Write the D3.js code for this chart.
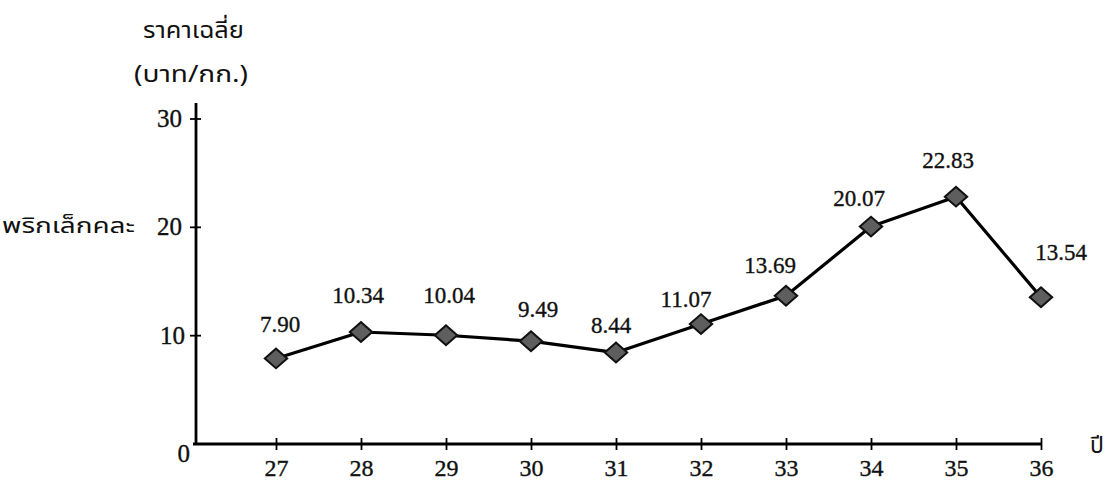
<!DOCTYPE html>
<html>
<head>
<meta charset="utf-8">
<script src="https://cdn.jsdelivr.net/npm/d3@7"></script>
<style>
  html, body { margin: 0; padding: 0; background: #fff; }
  svg { display: block; }
  .num { font-family: "Liberation Serif", "Times New Roman", serif; fill: #111; stroke: #111; stroke-width: 0.35px; }
  .thai { font-family: "Noto Sans Thai", "Noto Serif Thai", "Noto Sans", sans-serif; fill: #111; }
</style>
</head>
<body>
<svg id="chart" width="1105" height="484"></svg>
<script>
// Average price of mixed small chilli (baht/kg), years 2527–2536 B.E.
const years = [27, 28, 29, 30, 31, 32, 33, 34, 35, 36];
const prices = [7.90, 10.34, 10.04, 9.49, 8.44, 11.07, 13.69, 20.07, 22.83, 13.54];
const yTicks = [0, 10, 20, 30];

// Label placement around each point (dx from point, baseline dy from point)
const labelOffsets = [
  [4, -26], [-3, -29], [3, -32], [7, -24], [-5, -20],
  [-15, -17], [-16, -23], [-12, -21], [-8, -29], [20, -37]
];
// Right edge of each value-axis label, measured from the axis line
const yLabelGap = { 0: -6, 10: -11, 20: -14, 30: -14 };

const svg = d3.select("#chart");

const x = d3.scaleLinear().domain([27, 36]).range([276, 1041]);
const y = d3.scaleLinear().domain([0, 30]).range([444, 119]);
const axisX = 196;          // where the value axis stands
const axisTop = 103;

// Value axis
const gy = svg.append("g").attr("transform", `translate(${axisX},0)`);
gy.append("line")
  .attr("x1", 0).attr("x2", 0)
  .attr("y1", axisTop).attr("y2", y(0) + 1)
  .attr("stroke", "#000").attr("stroke-width", 2.8);
gy.selectAll("line.tick").data(yTicks.filter(d => d > 0)).join("line")
  .attr("class", "tick")
  .attr("x1", -6).attr("x2", 5)
  .attr("y1", d => y(d)).attr("y2", d => y(d))
  .attr("stroke", "#000").attr("stroke-width", 1.8);
gy.selectAll("text").data(yTicks).join("text")
  .attr("class", "num")
  .attr("x", d => yLabelGap[d])
  .attr("y", d => d === 0 ? y(d) + 18 : y(d) + 8)
  .attr("text-anchor", "end")
  .attr("font-size", 25)
  .text(d => d);

// Year axis
const xAxis = d3.axisBottom(x).tickValues(years).tickSize(0).tickPadding(0).tickFormat(d3.format("d"));
const gx = svg.append("g").attr("transform", `translate(0,${y(0)})`).call(xAxis);
gx.select(".domain").remove();
gx.append("line")
  .attr("x1", axisX - 3).attr("x2", x(36))
  .attr("y1", 0).attr("y2", 0)
  .attr("stroke", "#000").attr("stroke-width", 2.8);
gx.selectAll(".tick line")
  .attr("y1", -6).attr("y2", 6)
  .attr("stroke", "#000").attr("stroke-width", 1.8);
gx.selectAll(".tick text")
  .attr("class", "num")
  .attr("y", 32)
  .attr("dy", 0)
  .attr("font-size", 24)
  .attr("fill", "#111");

// Price line
const line = d3.line().x((d, i) => x(years[i])).y(d => y(d));
svg.append("path")
  .datum(prices)
  .attr("d", line)
  .attr("fill", "none")
  .attr("stroke", "#000")
  .attr("stroke-width", 3.2)
  .attr("stroke-linejoin", "round");

// Diamond markers
const diamond = d3.symbol().type(d3.symbolSquare).size(215);
svg.selectAll("path.marker").data(prices).join("path")
  .attr("class", "marker")
  .attr("d", diamond)
  .attr("transform", (d, i) => `translate(${x(years[i])},${y(d)}) scale(1.08,0.95) rotate(45)`)
  .attr("fill", "#5e5e5e")
  .attr("stroke", "#111")
  .attr("stroke-width", 2);

// Value labels
svg.selectAll("text.val").data(prices).join("text")
  .attr("class", "num val")
  .attr("x", (d, i) => x(years[i]) + labelOffsets[i][0])
  .attr("y", (d, i) => y(d) + labelOffsets[i][1])
  .attr("text-anchor", "middle")
  .attr("font-size", 23)
  .text(d => d.toFixed(2));

// Axis titles
svg.append("text").attr("class", "thai")
  .attr("x", 143).attr("y", 38).attr("font-size", 23)
  .attr("textLength", 101).attr("lengthAdjust", "spacingAndGlyphs")
  .text("ราคาเฉลี่ย");
svg.append("text").attr("class", "thai")
  .attr("x", 134).attr("y", 82).attr("font-size", 23)
  .attr("textLength", 114).attr("lengthAdjust", "spacingAndGlyphs")
  .text("(บาท/กก.)");
svg.append("text").attr("class", "thai")
  .attr("x", 2).attr("y", 233).attr("font-size", 22)
  .attr("textLength", 133).attr("lengthAdjust", "spacingAndGlyphs")
  .text("พริกเล็กคละ");
svg.append("text").attr("class", "thai")
  .attr("x", 1090).attr("y", 453).attr("font-size", 23)
  .text("ปี");
</script>
</body>
</html>
